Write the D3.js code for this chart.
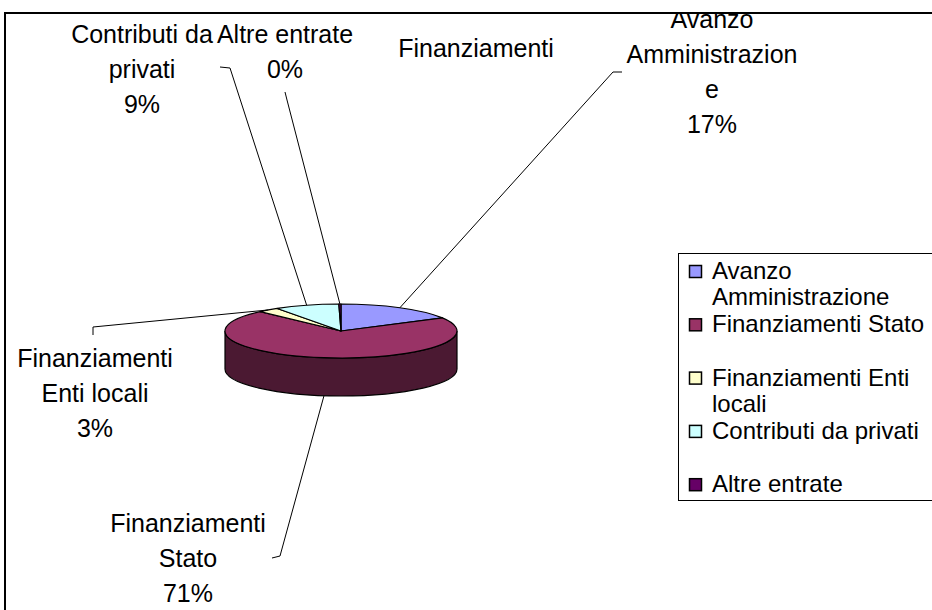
<!DOCTYPE html>
<html>
<head>
<meta charset="utf-8">
<script src="https://cdn.jsdelivr.net/npm/d3@7"></script>
<style>
  body { margin: 0; background: #fff; }
  text { font-family: "Liberation Sans", Arial, sans-serif; fill: #000; }
</style>
</head>
<body>
<div id="chart"></div>
<script>
// data
const categories = ["Avanzo Amministrazione", "Finanziamenti Stato", "Finanziamenti Enti locali", "Contributi da privati", "Altre entrate"];
const values = [17, 71, 3, 9, 0.3];
const colors = ["#9999ff", "#993366", "#ffffcc", "#ccffff", "#660066"];
const labelLines = [["Avanzo", "Amministrazion", "e"], ["Finanziamenti", "Stato"], ["Finanziamenti", "Enti locali"], ["Contributi da", "privati"], ["Altre entrate"]];
const legendLines = [["Avanzo", "Amministrazione"], ["Finanziamenti Stato"], ["Finanziamenti Enti", "locali"], ["Contributi da privati"], ["Altre entrate"]];
const strayLabel = "Finanziamenti";

// layout
const width = 932;
const height = 610;
const pie3d = { cx: 341, cy: 331, rx: 116, ry: 27, depth: 38 };
// where each data label sits (centre x, first baseline) and its leader hook
const labelPos = [
    { x: 712, y: 28, elbow: [613, 72], end: [622, 72] },
    { x: 188, y: 532, elbow: [280, 556], end: [272, 558] },
    { x: 95, y: 367, elbow: [93, 327], end: [93, 335] },
    { x: 142, y: 43, elbow: [230, 68], end: [220, 67] },
    { x: 285, y: 43, elbow: [287, 100], end: [285, 92] }
];
const legendBox = { x: 678, y: 253, w: 256, h: 247, top: 279, step: 53.3 };

const svg = d3.select("#chart").append("svg")
    .attr("width", width)
    .attr("height", height);

svg.append("defs").append("clipPath").attr("id", "plotClip")
    .append("rect").attr("x", 5).attr("y", 13).attr("width", width).attr("height", height);

// outer frame
svg.append("rect")
    .attr("x", 5).attr("y", 13)
    .attr("width", width + 10).attr("height", height + 10)
    .attr("fill", "#fff")
    .attr("stroke", "#000")
    .attr("stroke-width", 2);

const total = d3.sum(values);
const arcs = d3.pie().sort(null).value(d => d)(values);

function pt(a, dy) {
    return [pie3d.cx + pie3d.rx * Math.sin(a), pie3d.cy - pie3d.ry * Math.cos(a) + (dy || 0)];
}

// side walls (front half only)
const g = svg.append("g");
arcs.forEach((d, i) => {
    const a0 = Math.max(d.startAngle, Math.PI / 2 + 1e-4);
    const a1 = Math.min(d.endAngle, 3 * Math.PI / 2 - 1e-4);
    if (a0 >= a1) return;
    const p0 = pt(a0), p1 = pt(a1), q1 = pt(a1, pie3d.depth), q0 = pt(a0, pie3d.depth);
    const path = `M${p0}A${pie3d.rx},${pie3d.ry} 0 0 1 ${p1}L${q1}A${pie3d.rx},${pie3d.ry} 0 0 0 ${q0}Z`;
    g.append("path")
        .attr("d", path)
        .attr("fill", d3.color(colors[i]).darker(2))
        .attr("stroke", "#000")
        .attr("stroke-width", 1.2);
});

// top faces
arcs.forEach((d, i) => {
    const p0 = pt(d.startAngle), p1 = pt(d.endAngle);
    const large = d.endAngle - d.startAngle > Math.PI ? 1 : 0;
    const path = `M${pie3d.cx},${pie3d.cy}L${p0}A${pie3d.rx},${pie3d.ry} 0 ${large} 1 ${p1}Z`;
    g.append("path")
        .attr("d", path)
        .attr("fill", colors[i])
        .attr("stroke", "#000")
        .attr("stroke-width", 1.2)
        .attr("stroke-linejoin", "round");
});

// leader lines
const leaders = svg.append("g");
arcs.forEach((d, i) => {
    const mid = (d.startAngle + d.endAngle) / 2;
    const start = pt(mid, Math.cos(mid) < 0 ? pie3d.depth : 0);
    leaders.append("path")
        .datum([start, labelPos[i].elbow, labelPos[i].end])
        .attr("d", d3.line())
        .attr("fill", "none")
        .attr("stroke", "#000")
        .attr("stroke-width", 1);
});

// data labels
const labels = svg.append("g").attr("clip-path", "url(#plotClip)");
arcs.forEach((d, i) => {
    const lines = labelLines[i].concat([Math.round(d.value / total * 100) + "%"]);
    const t = labels.append("text")
        .attr("text-anchor", "middle")
        .attr("font-size", 25);
    lines.forEach((s, k) => {
        t.append("tspan")
            .attr("x", labelPos[i].x)
            .attr("y", labelPos[i].y + k * 35)
            .text(s);
    });
});
labels.append("text")
    .attr("x", 476).attr("y", 57)
    .attr("text-anchor", "middle")
    .attr("font-size", 25)
    .text(strayLabel);

// legend
const leg = svg.append("g");
leg.append("rect")
    .attr("x", legendBox.x + 0.5).attr("y", legendBox.y + 0.5)
    .attr("width", legendBox.w).attr("height", legendBox.h)
    .attr("fill", "#fff")
    .attr("stroke", "#000")
    .attr("stroke-width", 1);

categories.forEach((c, i) => {
    const base = legendBox.top + i * legendBox.step;
    leg.append("rect")
        .attr("x", 689.5).attr("y", base - 13.5)
        .attr("width", 12).attr("height", 12)
        .attr("fill", colors[i])
        .attr("stroke", "#000")
        .attr("stroke-width", 1.5);
    const t = leg.append("text").attr("font-size", 24);
    legendLines[i].forEach((s, k) => {
        t.append("tspan")
            .attr("x", 712)
            .attr("y", base + k * 26)
            .text(s);
    });
});
</script>
</body>
</html>
